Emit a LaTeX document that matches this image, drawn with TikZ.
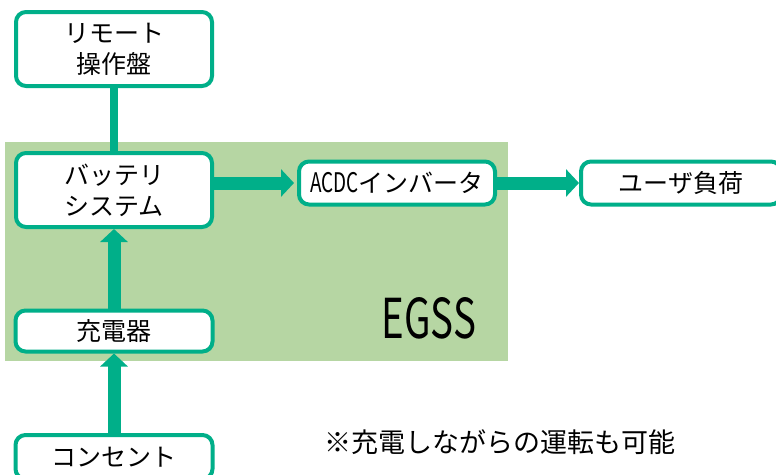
\documentclass[tikz,border=0pt]{standalone}
\usepackage{fontspec}
\setmainfont{Noto Sans CJK JP}
\newfontfamily\cond[FakeStretch=0.7]{Noto Sans CJK JP}
\usetikzlibrary{arrows.meta}
\definecolor{egreen}{RGB}{0,175,137}
\definecolor{efill}{RGB}{182,214,163}
\tikzset{
  box/.style={draw=egreen, line width=4pt, rounded corners=10pt, fill=white,
    font=\fontsize{25}{31}\selectfont, align=center, inner sep=0pt},
  arr/.style={egreen, line width=13pt, -{Triangle[width=27pt,length=13pt]}},
  link/.style={egreen, line width=8pt}
}
\begin{document}
\begin{tikzpicture}[x=1pt,y=-1pt]
\useasboundingbox (0,0) rectangle (776,474);
\fill[efill] (5,142) rectangle (508,361);
\node[box, minimum width=196pt, minimum height=74pt] (remote) at (114,49) {リモート\\操作盤};
\node[box, minimum width=196pt, minimum height=74pt] (batt) at (114,190) {バッテリ\\システム};
\node[box, minimum width=196pt, minimum height=43pt] (acdc) at (397,183) {{\cond\fontsize{27}{27}\selectfont ACDC}インバータ};
\node[box, minimum width=200pt, minimum height=43pt] (user) at (681,183) {ユーザ負荷};
\node[box, minimum width=197pt, minimum height=41pt] (chg) at (114,331) {充電器};
\node[box, minimum width=197pt, minimum height=44pt] (outlet) at (114,457) {コンセント};
\draw[link] (remote.south) -- (batt.north);
\draw[arr, shorten >=3pt] (batt.east |- acdc.west) -- (acdc.west);
\draw[arr] (acdc.east) -- (user.west);
\draw[arr] (chg.north) -- (batt.south);
\draw[arr] (outlet.north) -- (chg.south);
\node[font=\cond\fontsize{55}{55}\selectfont, anchor=base, inner sep=0pt] (egss) at (429,338) {EGSS};
\node[font=\fontsize{27}{27}\selectfont, inner sep=0pt] (note) at (500,442) {※充電しながらの運転も可能};
\end{tikzpicture}
\end{document}
